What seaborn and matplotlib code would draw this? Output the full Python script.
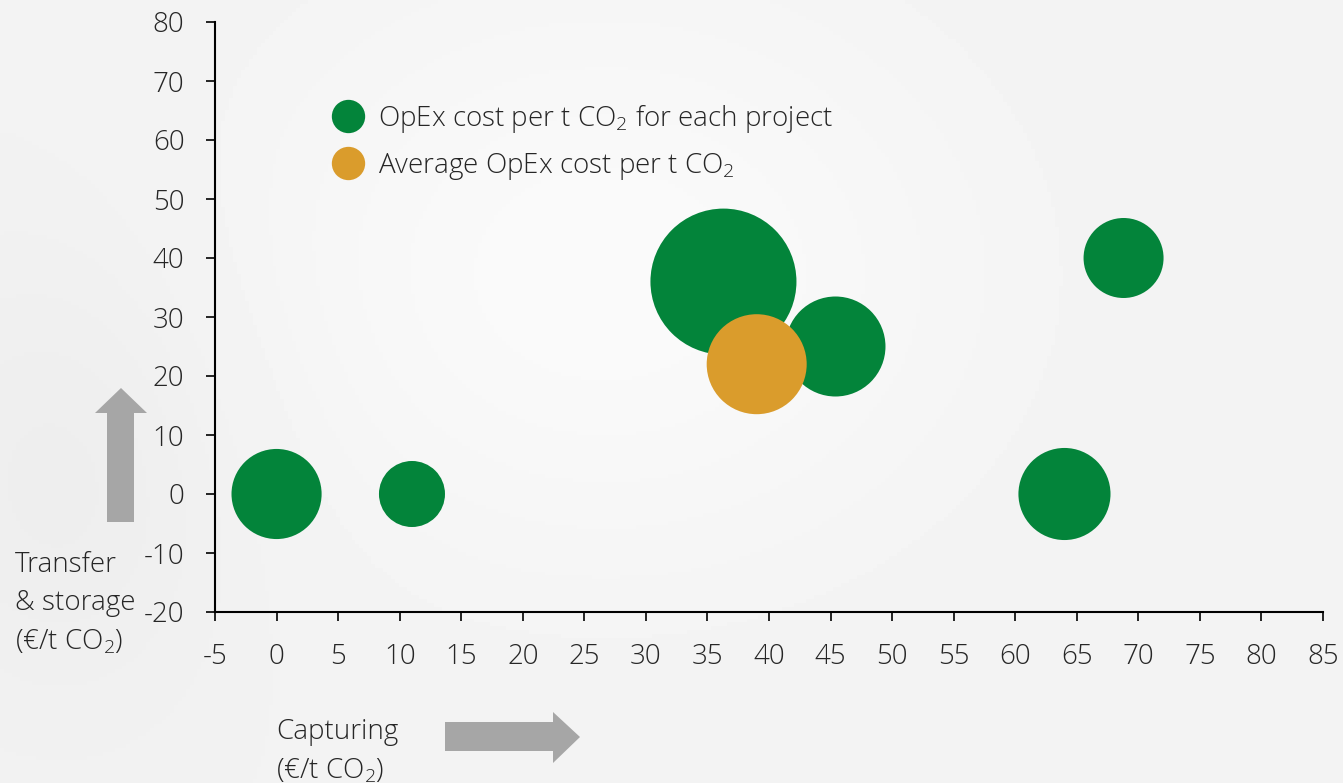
import numpy as np
import pandas as pd
import seaborn as sns
import matplotlib.pyplot as plt
from matplotlib.patches import Polygon
from matplotlib.lines import Line2D
from matplotlib.transforms import IdentityTransform

# data
capturing = [0, 11, 36.3, 45.4, 68.8, 64, 39]           # x, €/t CO2
transfer = [0, 0, 36, 25, 40, 0, 22]                   # y, €/t CO2
bubble_size = [20.3, 10.9, 53.3, 25.0, 16.0, 21.2, 25.0]  # relative bubble area
kind = ["project"] * 6 + ["average"]

x_ticks = list(range(-5, 90, 5))
y_ticks = list(range(-20, 90, 10))

df = pd.DataFrame({"capturing": capturing, "transfer": transfer,
                   "size": bubble_size, "kind": kind})

GREEN = "#03843a"
ORANGE = "#da9c2c"
GREY = "#a6a6a6"
W, H = 1343, 783
FS = 20

sns.set_theme(style="white")
plt.rcParams["font.family"] = ["Open Sans", "DejaVu Sans"]
plt.rcParams["mathtext.fontset"] = "custom"
plt.rcParams["mathtext.rm"] = "Open Sans"
plt.rcParams["axes.unicode_minus"] = False
plt.rcParams["text.color"] = "#262626"

fig = plt.figure(figsize=(W / 100, H / 100), dpi=100)
fig.patch.set_facecolor("#f2f2f2")

# soft background shading
bg = fig.add_axes([0, 0, 1, 1], zorder=-10)
yy, xx = np.mgrid[0:1:200j, 0:1:340j]
shade = 0.95 + 0.03 * np.exp(-((xx - 0.45) ** 2 / 0.08 + (yy - 0.35) ** 2 / 0.15)) \
        - 0.02 * np.exp(-((xx - 0.05) ** 2 / 0.02 + (yy - 0.6) ** 2 / 0.1))
bg.imshow(shade, cmap="gray", vmin=0, vmax=1, aspect="auto", extent=[0, 1, 0, 1])
bg.axis("off")

ax = fig.add_axes([215 / W, 1 - 612 / H, (1323 - 215) / W, (612 - 22) / H])
ax.patch.set_alpha(0)

k = (2 * 0.72) ** 2 * 100   # size value -> points^2
lo, hi = min(bubble_size), max(bubble_size)
sns.scatterplot(data=df, x="capturing", y="transfer", hue="kind", size="size",
                palette={"project": GREEN, "average": ORANGE},
                sizes=(lo * k, hi * k), size_norm=(lo, hi),
                linewidth=0, alpha=1, legend=False, ax=ax, clip_on=False)

ax.set_xlim(-5, 85)
ax.set_ylim(-20, 80)
ax.set_xticks(x_ticks)
ax.set_yticks(y_ticks)
ax.set_xlabel("")
ax.set_ylabel("")
sns.despine(ax=ax)
for s in ["left", "bottom"]:
    ax.spines[s].set_color("black")
    ax.spines[s].set_linewidth(1.5)
ax.tick_params(axis="both", which="both", direction="out", length=6.5, width=1.2,
               color="black", labelsize=FS, labelcolor="#262626", pad=15.5,
               left=True, bottom=True)
ax.tick_params(axis="x", pad=15.5)
for lab in ax.get_xticklabels() + ax.get_yticklabels():
    lab.set_fontweight("light")

# legend
handles = [Line2D([], [], marker="o", ls="", markersize=24, markerfacecolor=GREEN,
                  markeredgewidth=0),
           Line2D([], [], marker="o", ls="", markersize=24, markerfacecolor=ORANGE,
                  markeredgewidth=0)]
labels = [r"OpEx cost per t CO$_\mathregular{2}$ for each project",
          r"Average OpEx cost per t CO$_\mathregular{2}$"]
leg = ax.legend(handles, labels, loc="upper left", frameon=False,
                bbox_to_anchor=(320 / W, 1 - 91 / H), bbox_transform=fig.transFigure,
                prop={"size": FS, "weight": "light"}, handletextpad=0.5,
                labelspacing=0.58, borderaxespad=0, handlelength=1.2)

# axis captions
fig.text(15 / W, 1 - 551 / H, "Transfer\n& storage\n(€/t CO$_\\mathregular{2}$)",
         ha="left", va="top", fontsize=FS, fontweight="light", linespacing=1.47)
fig.text(276 / W, 1 - 718 / H, "Capturing\n(€/t CO$_\\mathregular{2}$)",
         ha="left", va="top", fontsize=FS, fontweight="light", linespacing=1.47)


def block_arrow(pts):
    poly = Polygon([(px, H - py) for px, py in pts], closed=True,
                   facecolor=GREY, edgecolor="none", transform=IdentityTransform())
    fig.add_artist(poly)


# up arrow
block_arrow([(107, 522), (134, 522), (134, 413), (147, 413), (121, 388),
             (95, 413), (107, 413)])
# right arrow
block_arrow([(445, 722), (553, 722), (553, 712), (580, 737), (553, 763),
             (553, 751), (445, 751)])

fig.savefig("out.png", dpi=100, facecolor=fig.get_facecolor())
